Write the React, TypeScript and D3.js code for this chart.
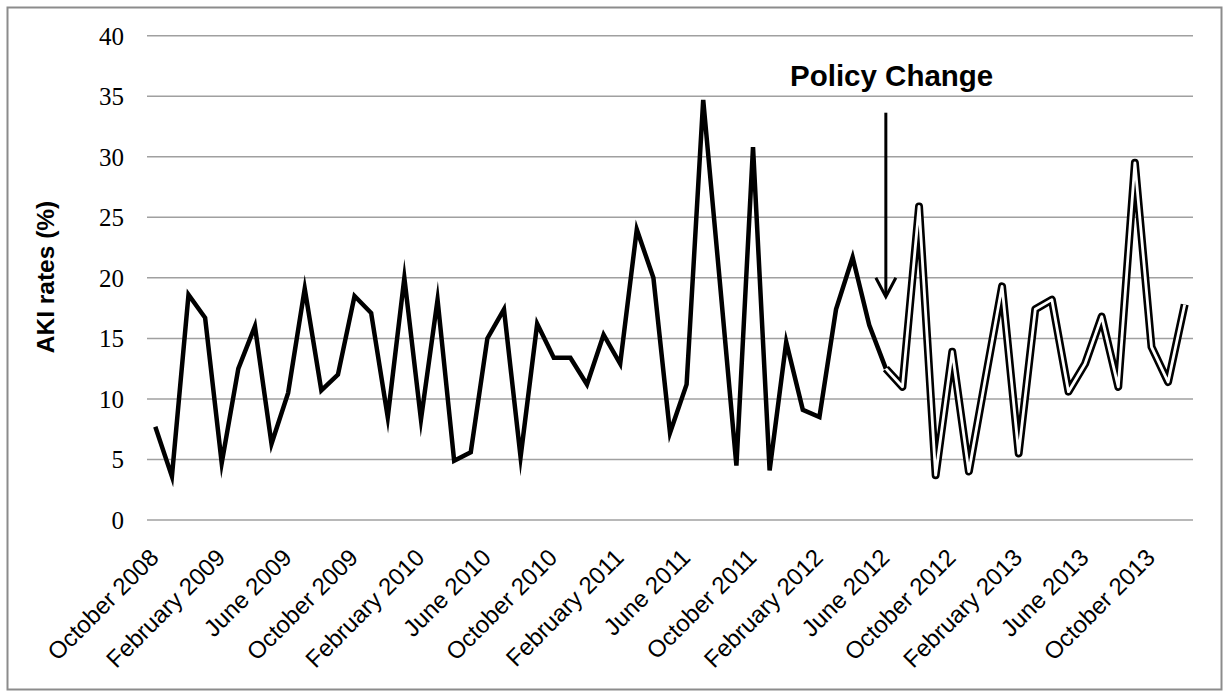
import React from "react";
import * as d3 from "d3";

const months: string[] = [
  "2008-10", "2008-11", "2008-12",
  "2009-01", "2009-02", "2009-03", "2009-04", "2009-05", "2009-06", "2009-07", "2009-08", "2009-09", "2009-10", "2009-11", "2009-12",
  "2010-01", "2010-02", "2010-03", "2010-04", "2010-05", "2010-06", "2010-07", "2010-08", "2010-09", "2010-10", "2010-11", "2010-12",
  "2011-01", "2011-02", "2011-03", "2011-04", "2011-05", "2011-06", "2011-07", "2011-08", "2011-09", "2011-10", "2011-11", "2011-12",
  "2012-01", "2012-02", "2012-03", "2012-04", "2012-05", "2012-06", "2012-07", "2012-08", "2012-09", "2012-10", "2012-11", "2012-12",
  "2013-01", "2013-02", "2013-03", "2013-04", "2013-05", "2013-06", "2013-07", "2013-08", "2013-09", "2013-10", "2013-11", "2013-12",
];

// AKI rates before policy change (Oct 2008 - Jun 2012)
const preValues: number[] = [
  7.7, 3.6, 18.6, 16.7, 4.7, 12.5, 16.0, 6.3, 10.5, 19.1,
  10.7, 12.0, 18.5, 17.1, 8.5, 20.0, 8.3, 18.2, 4.9, 5.6,
  15.0, 17.4, 5.2, 16.2, 13.4, 13.4, 11.2, 15.3, 12.9, 24.0,
  20.0, 7.2, 11.2, 34.7, 19.7, 4.5, 30.8, 4.1, 14.7, 9.1,
  8.5, 17.4, 21.7, 16.1, 12.5,
];

// AKI rates after policy change (Jun 2012 - Dec 2013)
const postValues: number[] = [
  12.5, 11.0, 25.9, 3.7, 13.9, 4.0, 11.7, 19.3, 5.5, 17.4,
  18.2, 10.6, 12.9, 16.8, 11.0, 29.5, 14.3, 11.4, 17.8,
];
const postStartIndex = 44;

const tickLabels: string[] = [
  "October 2008", "February 2009", "June 2009", "October 2009",
  "February 2010", "June 2010", "October 2010", "February 2011",
  "June 2011", "October 2011", "February 2012", "June 2012",
  "October 2012", "February 2013", "June 2013", "October 2013",
];
const yTicks: number[] = [0, 5, 10, 15, 20, 25, 30, 35, 40];

const sans = "'Liberation Sans', Arial, sans-serif";
const serif = "'Liberation Serif', 'Times New Roman', serif";

export default function App() {
  const W = 1230;
  const H = 697;
  const left = 147;
  const right = 1193;
  const top = 35.7;
  const bottom = 520;

  const x = d3.scalePoint<string>().domain(months).range([left, right]).padding(0.5);
  const y = d3.scaleLinear().domain([0, 40]).range([bottom, top]);

  const prePts = preValues.map((v, i) => [x(months[i]) as number, y(v)] as [number, number]);
  const postPts = postValues.map((v, i) => [x(months[i + postStartIndex]) as number, y(v)] as [number, number]);
  const line = d3.line();

  const tickMonths = tickLabels.map((_, k) => months[k * 4]);
  const policyX = x(months[postStartIndex]) as number;

  return (
    <svg width={W} height={H} style={{ position: "absolute", left: 0, top: 0, background: "#fff" }}>
      <rect x={0} y={0} width={W} height={H} fill="#fff" />
      <rect x={7.5} y={7.5} width={1214} height={682} fill="none" stroke="#8c8c8c" strokeWidth={2} />
      {yTicks.map((t) => (
        <g key={t}>
          <line x1={left} x2={right} y1={y(t)} y2={y(t)} stroke="#a0a0a0" strokeWidth={1.5} />
          <text x={124} y={y(t) + 9} textAnchor="end" fontFamily={serif} fontSize={25} fill="#000">
            {t}
          </text>
        </g>
      ))}
      <text
        transform={`translate(53.5, 277) rotate(-90)`}
        textAnchor="middle"
        fontFamily={sans}
        fontWeight="bold"
        fontSize={24.5}
        fill="#000"
      >
        AKI rates (%)
      </text>
      {tickLabels.map((lab, k) => {
        const tx = (x(tickMonths[k]) as number) + 5;
        const ty = 559;
        return (
          <text
            key={lab}
            transform={`translate(${tx}, ${ty}) rotate(-45)`}
            textAnchor="end"
            fontFamily={sans}
            fontSize={24}
            fill="#000"
          >
            {lab}
          </text>
        );
      })}
      <path d={line(prePts) || ""} fill="none" stroke="#000" strokeWidth={4.5} strokeLinejoin="miter" strokeMiterlimit={10} />
      <path d={line(postPts) || ""} fill="none" stroke="#000" strokeWidth={8} strokeLinejoin="round" strokeLinecap="butt" />
      <path d={line(postPts) || ""} fill="none" stroke="#fff" strokeWidth={2.8} strokeLinejoin="round" strokeLinecap="butt" />
      <line x1={policyX} x2={policyX} y1={112.7} y2={295} stroke="#000" strokeWidth={3} />
      <polyline
        points={`${policyX - 10},${277.7} ${policyX},${296.7} ${policyX + 10},${277.7}`}
        fill="none"
        stroke="#000"
        strokeWidth={3}
      />
      <text x={790} y={86} fontFamily={sans} fontWeight="bold" fontSize={29.5} fill="#000">
        Policy Change
      </text>
    </svg>
  );
}
